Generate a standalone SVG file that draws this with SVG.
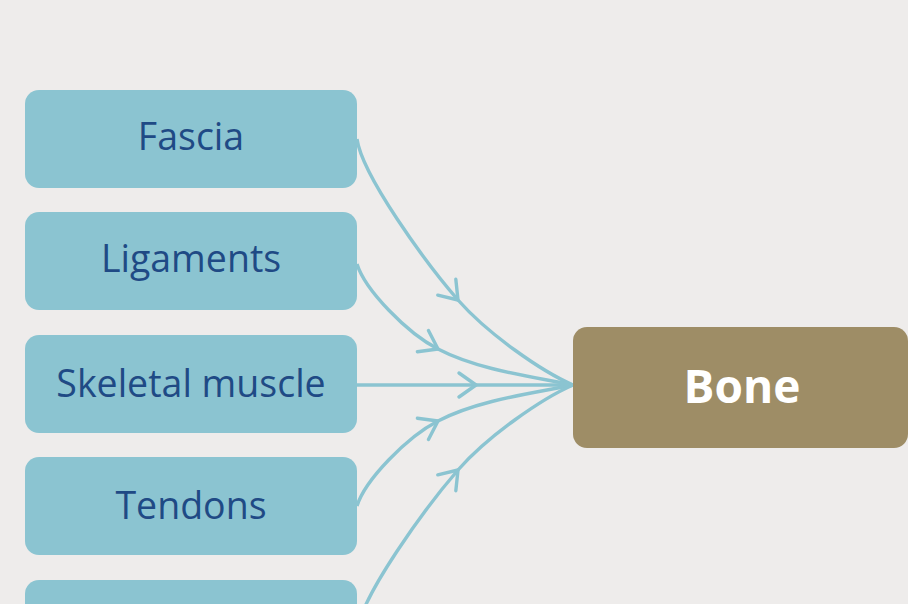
<svg xmlns="http://www.w3.org/2000/svg" width="908" height="604" viewBox="0 0 908 604">
<style>
.box{fill:#8bc4d1}
.lbl{font-family:"Open Sans","Noto Sans",sans-serif;font-size:37.5px;fill:#1f4a85;text-anchor:middle}
.bone{fill:#9e8d66}
.bl{font-family:"Open Sans","Noto Sans",sans-serif;font-size:46px;font-weight:bold;fill:#ffffff;text-anchor:middle}
.c{fill:none;stroke:#8bc4d1;stroke-width:3.4;marker-mid:url(#chev)}
</style>
<defs>
<marker id="chev" markerUnits="userSpaceOnUse" viewBox="-20 -15 24 30" refX="0" refY="0" markerWidth="24" markerHeight="30" orient="auto" overflow="visible">
<path d="M-17,-12 L0,0 L-17,12" fill="none" stroke="#8bc4d1" stroke-width="3.4" stroke-linecap="round" stroke-linejoin="round"/>
</marker>
</defs>
<rect width="908" height="604" fill="#eeeceb"/>
<g id="connectors">
<path class="c" d="M357,139 C362,175 425,262 458,300 C488,334 541,371 573,385"/>
<path class="c" d="M357,264 C365,290 407,333 438,349 C478,370 534,377 573,385"/>
<path class="c" d="M357,385 L476,385 L573,385"/>
<path class="c" d="M357,506 C365,480 407,437 438,421 C478,400 534,393 573,385"/>
<path class="c" d="M357,631 C362,595 425,508 458,470 C488,436 541,399 573,385"/>
</g>
<g id="fascia"><rect class="box" x="25" y="90" width="332" height="98" rx="14"/><text class="lbl" x="191" y="150">Fascia</text></g>
<g id="ligaments"><rect class="box" x="25" y="212" width="332" height="98" rx="14"/><text class="lbl" x="191" y="272">Ligaments</text></g>
<g id="skeletal-muscle"><rect class="box" x="25" y="335" width="332" height="98" rx="14"/><text class="lbl" x="191" y="397">Skeletal muscle</text></g>
<g id="tendons"><rect class="box" x="25" y="457" width="332" height="98" rx="14"/><text class="lbl" x="191" y="519">Tendons</text></g>
<g id="fifth"><rect class="box" x="25" y="580" width="332" height="98" rx="14"/></g>
<g id="bone"><rect class="bone" x="573" y="327" width="335" height="121" rx="14"/><text class="bl" x="742" y="403">Bone</text></g>
</svg>
